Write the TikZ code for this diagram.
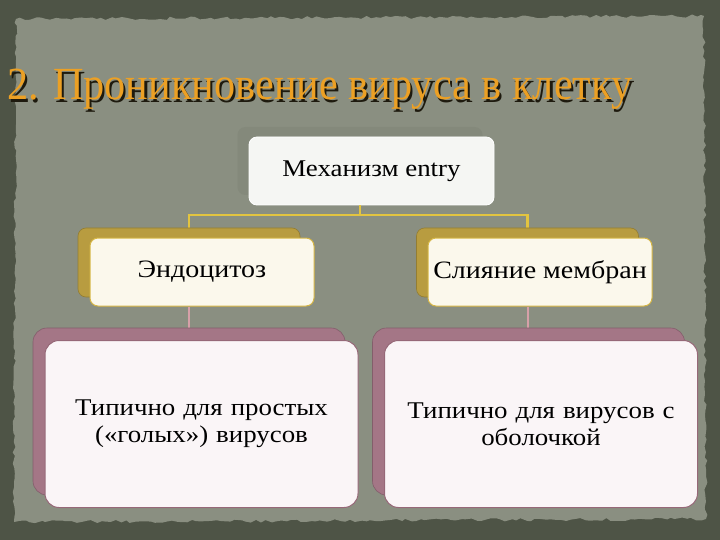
\documentclass[tikz,border=0pt]{standalone}
\usepackage{fontspec}
\setmainfont{Liberation Serif}[FakeStretch=1.12]
\newfontfamily\ttlfont{Liberation Serif}[FakeStretch=0.92]
\usetikzlibrary{decorations.pathmorphing}
\definecolor{frame}{RGB}{78,84,70}
\definecolor{paper}{RGB}{138,143,129}
\definecolor{goldS}{RGB}{184,156,64}
\definecolor{goldB}{RGB}{214,182,70}
\definecolor{goldL}{RGB}{226,196,64}
\definecolor{cream}{RGB}{251,248,236}
\definecolor{pinkS}{RGB}{164,118,134}
\definecolor{pinkB}{RGB}{150,104,120}
\definecolor{pinkL}{RGB}{214,160,168}
\definecolor{rosew}{RGB}{250,245,247}
\definecolor{topw}{RGB}{245,246,243}
\definecolor{topS}{RGB}{132,137,123}
\definecolor{ttlorange}{RGB}{236,160,36}
\definecolor{ttldark}{RGB}{30,26,14}
\tikzset{
  box/.style={rounded corners=#1, inner sep=4pt, align=center, text=black},
  box/.default=8pt,
  goldshadow/.style={box, fill=goldS, draw=goldS!80!black, line width=0.6pt, minimum width=222pt, minimum height=69pt},
  goldfront/.style={box, fill=cream, draw=goldB, line width=1pt, minimum width=224pt, minimum height=68pt, font=\fontsize{25}{29}\selectfont},
  pinkshadow/.style={box=14pt, fill=pinkS, draw=pinkS!80!black, line width=0.6pt, minimum width=312pt, minimum height=167pt},
  pinkfront/.style={box=14pt, fill=rosew, draw=pinkB, line width=1pt, minimum width=313pt, minimum height=167pt, text width=305pt, font=\fontsize{24}{27}\selectfont},
  goldline/.style={draw=goldL, line width=2.2pt},
  pinkline/.style={draw=pinkL, line width=2pt},
  ttl/.style={anchor=base west, inner sep=0pt, font=\ttlfont\fontsize{46}{50}\selectfont}
}
\begin{document}
\begin{tikzpicture}[x=1pt,y=-1pt]
\useasboundingbox (0,0) rectangle (720,540);
\fill[frame] (0,0) rectangle (720,540);
\fill[paper, decorate, decoration={random steps,segment length=5pt,amplitude=1.6pt}]
  (16,19) -- (704,16) -- (706,519) -- (14,522) -- cycle;
% title with dark drop shadow
\node[ttl, text=ttldark] (titleS) at (9.2,102.4) {2. Проникновение вируса в клетку};
\node[ttl, text=ttlorange] (title) at (7,100) {2. Проникновение вируса в клетку};
% top box
\node[box, fill=topS, minimum width=245pt, minimum height=68pt] (topS) at (360,161) {};
\node[box, fill=topw, draw=white, line width=0.8pt, minimum width=245pt, minimum height=68pt,
      font=\fontsize{24}{28}\selectfont] (top) at (371.5,171) {Механизм entry};
% gold connectors
\coordinate (j) at (360,215);
\path[goldline] (topS.center |- top.south) -- (j) -| (189,240);
\path[goldline] (j) -| (527.5,240);
% second row
\node[goldshadow] (endoS) at (189,262.5) {};
\node[goldfront] (endo) at (202,272) {Эндоцитоз};
\node[goldshadow] (fusionS) at (527.5,262.5) {};
\node[goldfront] (fusion) at (540,272) {Слияние мембран};
% pink connectors
\path[pinkline] (endoS.south |- endo.south) -- (189,330);
\path[pinkline] (fusionS.south |- fusion.south) -- (527.5,330);
% third row
\node[pinkshadow] (simpleS) at (189,411.5) {};
\node[pinkfront] (simple) at (201.5,424) {Типично для простых\\(«голых») вирусов};
\node[pinkshadow] (envelS) at (528.5,411.5) {};
\node[pinkfront] (envel) at (541,424) {Типично для вирусов с\\оболочкой};
\end{tikzpicture}
\end{document}
